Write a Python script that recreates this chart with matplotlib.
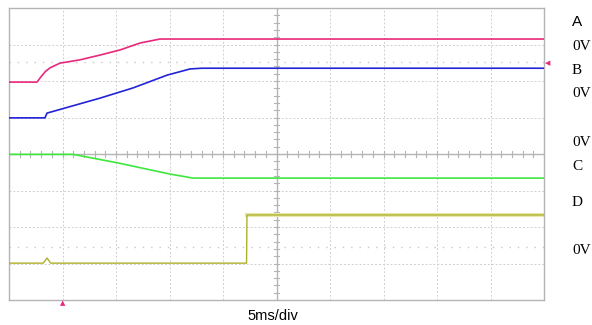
import matplotlib
matplotlib.use("Agg")
import matplotlib.pyplot as plt
import numpy as np

# time in ms (5 ms/div, 10 divisions), amplitude in screen divisions (0..8)
a_t = [0.0, 2.62, 3.0, 3.4, 3.83, 4.77, 6.64, 8.50, 10.37, 12.24, 14.11, 50.0]
a_v = [5.97, 5.97, 6.12, 6.26, 6.36, 6.49, 6.58, 6.71, 6.85, 7.04, 7.15, 7.15]

b_t = [0.0, 3.36, 3.55, 8.50, 11.59, 14.77, 16.92, 18.0, 50.0]
b_v = [4.99, 4.99, 5.12, 5.53, 5.81, 6.16, 6.33, 6.35, 6.35]

c_t = [0.0, 5.98, 10.1, 15.05, 17.2, 50.0]
c_v = [3.99, 3.99, 3.76, 3.45, 3.34, 3.34]

d_t = [0.0, 3.2, 3.55, 3.9, 22.2, 22.24, 50.0]
d_v = [1.01, 1.01, 1.15, 1.01, 1.01, 2.33, 2.33]

labels = ["A", "0V", "B", "0V", "0V", "C", "D", "0V"]
label_y = [22, 47, 71, 93, 142, 167, 202, 250]  # pixel rows

W, H = 592, 325
fig = plt.figure(figsize=(W / 100, H / 100), dpi=100)
x0, x1, y0, y1 = 9, 544, 8, 300
ax = fig.add_axes([x0 / W, 1 - y1 / H, (x1 - x0) / W, (y1 - y0) / H])
ax.set_xlim(0, 50)
ax.set_ylim(0, 8)
ax.set_xticks([])
ax.set_yticks([])
for s in ax.spines.values():
    s.set_color("#b4b4b4")
    s.set_linewidth(1.0)

grid_c = "#cfcfcf"
for i in range(1, 10):
    if i == 5:
        continue
    ax.axvline(i * 5, color=grid_c, lw=0.7, ls=(0, (2, 2)), zorder=1)
for j in range(1, 8):
    if j == 4:
        continue
    ax.axhline(j, color=grid_c, lw=0.7, ls=(0, (2, 2)), zorder=1)
# center lines with minor ticks
ax.axvline(25, color="#b4b4b4", lw=1.0, zorder=1)
ax.axhline(4, color="#b4b4b4", lw=1.0, zorder=1)
for k in range(0, 51):
    ax.plot([k, k], [4 - 0.07, 4 + 0.07], color="#b4b4b4", lw=0.8, zorder=1)
for k in range(0, 41):
    y = k * 0.2
    ax.plot([25 - 0.22, 25 + 0.22], [y, y], color="#b4b4b4", lw=0.8, zorder=1)
# half-division dotted marker rows
for yy in [6.52, 1.45]:
    ax.axhline(yy, color="#c8c8c8", lw=1.0, ls=(0, (1, 5)), zorder=1)

ax.plot(a_t, a_v, color="#e8287c", lw=1.2, zorder=3)
ax.plot(b_t, b_v, color="#2323d8", lw=1.2, zorder=3)
ax.plot(c_t, c_v, color="#3ee83e", lw=1.2, zorder=3)
ax.plot(d_t[-2:], d_v[-2:], color="#e8e8b0", lw=3.0, zorder=2)
ax.plot(d_t, d_v, color="#b0b02a", lw=1.0, zorder=3)

# trigger markers
fig.text(63 / W, 1 - 303 / H, "\u25B2", color="#e8287c", fontsize=5,
         ha="center", va="center", family="DejaVu Sans")
fig.text(548 / W, 1 - 63 / H, "\u25C0", color="#e8287c", fontsize=5,
         ha="center", va="center", family="DejaVu Sans")

for lab, yp in zip(labels, label_y):
    fam = "Liberation Sans" if lab == "A" else "Liberation Serif"
    fig.text(572 / W, 1 - yp / H, lab, fontsize=11, family=fam,
             ha="left", va="center", color="black")

fig.text(273 / W, 1 - 316 / H, "5ms/div", fontsize=10.5, family="Liberation Sans",
         ha="center", va="center", color="black")

fig.savefig("out.png", dpi=100)
